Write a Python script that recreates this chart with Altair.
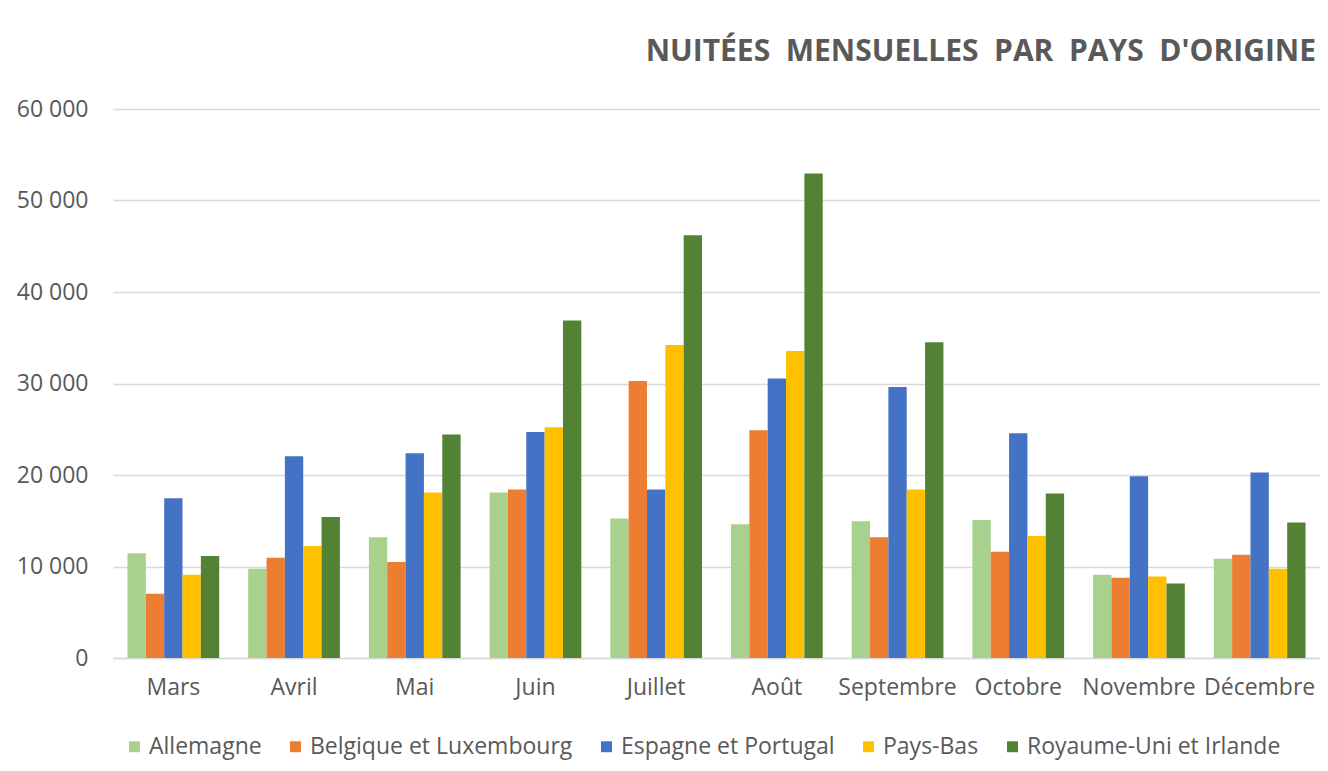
import altair as alt
import pandas as pd

months = ["Mars", "Avril", "Mai", "Juin", "Juillet", "Août", "Septembre", "Octobre", "Novembre", "Décembre"]
series = ["Allemagne", "Belgique et Luxembourg", "Espagne et Portugal", "Pays-Bas", "Royaume-Uni et Irlande"]
colors = ["#A9D18E", "#ED7D31", "#4472C4", "#FFC000", "#548235"]

allemagne = [11440, 9760, 13190, 18090, 15240, 14620, 14950, 15090, 9100, 10860]
belgique = [7020, 10960, 10490, 18420, 30260, 24890, 13190, 11620, 8770, 11290]
espagne = [17470, 22040, 22370, 24710, 18420, 30560, 29610, 24560, 19850, 20280]
pays_bas = [9100, 12240, 18090, 25220, 34210, 33550, 18420, 13340, 8920, 9760]
royaume_uni = [11150, 15420, 24420, 36880, 46200, 52960, 34500, 17980, 8150, 14800]

values = [allemagne, belgique, espagne, pays_bas, royaume_uni]
rows = []
for s, vals in zip(series, values):
    for m, v in zip(months, vals):
        rows.append({"Mois": m, "Pays": s, "Nuitées": v})
df = pd.DataFrame(rows)

FONT = "Open Sans"
GREY = "#595959"
FS = 23
TITLE = "NUITÉES\u00a0 MENSUELLES\u00a0 PAR\u00a0 PAYS\u00a0 D'ORIGINE"

chart = alt.Chart(df).mark_bar().encode(
    x=alt.X("Mois:N", sort=months,
            scale=alt.Scale(paddingInner=0.24, paddingOuter=0.12),
            axis=alt.Axis(title=None, labelAngle=0, labelFontSize=FS, labelColor=GREY,
                          labelFont=FONT, labelPadding=18, ticks=False,
                          domainColor="#d9d9d9", domainWidth=1.5, grid=False)),
    xOffset=alt.XOffset("Pays:N", sort=series,
                        scale=alt.Scale(paddingInner=0, paddingOuter=0)),
    y=alt.Y("Nuitées:Q", scale=alt.Scale(domain=[0, 60000], nice=False),
            axis=alt.Axis(title=None, values=[0, 10000, 20000, 30000, 40000, 50000, 60000],
                          labelExpr="replace(format(datum.value, ','), regexp(',', 'g'), ' ')",
                          labelFontSize=FS, labelColor=GREY, labelFont=FONT, labelPadding=25,
                          ticks=False, domain=False, gridColor="#d9d9d9", gridWidth=1.5)),
    color=alt.Color("Pays:N", sort=series,
                    scale=alt.Scale(domain=series, range=colors),
                    legend=alt.Legend(title=None, orient="none", direction="horizontal",
                                      legendX=10, legendY=626, symbolType="square",
                                      symbolSize=120, symbolStrokeWidth=0,
                                      labelFontSize=FS, labelColor=GREY, labelFont=FONT,
                                      labelLimit=0, labelOffset=3, columnPadding=22)),
).properties(
    width=1207,
    height=549,
    title=alt.Title(TITLE, anchor="end",
                    fontSize=30, fontWeight="bold", color=GREY, font=FONT,
                    offset=7, baseline="alphabetic", dx=-4),
    autosize=alt.AutoSizeParams(type="none"),
    padding={"left": 105, "top": 101, "right": 0, "bottom": 105},
).configure_view(stroke=None)

chart.save("out.html", embed_options={"renderer": "svg", "actions": False})
